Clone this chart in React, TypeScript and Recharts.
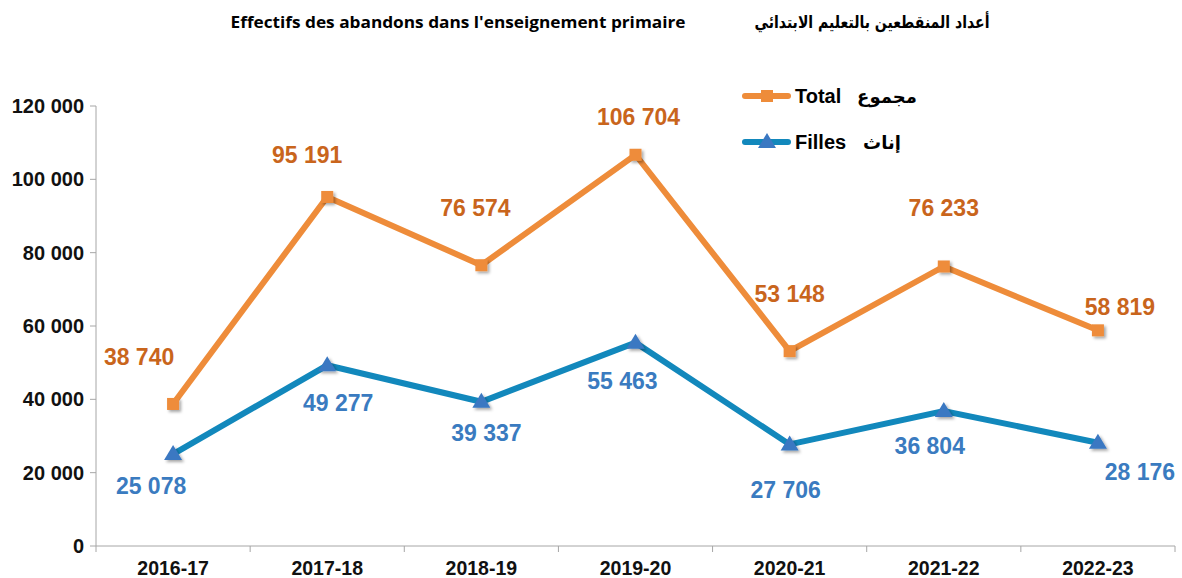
import { LineChart, Line, XAxis, YAxis, LabelList } from 'recharts';

document.body.style.margin = '0';

const years = ['2016-17', '2017-18', '2018-19', '2019-20', '2020-21', '2021-22', '2022-23'];
const total = [38740, 95191, 76574, 106704, 53148, 76233, 58819];
const filles = [25078, 49277, 39337, 55463, 27706, 36804, 28176];
const yTicks = [0, 20000, 40000, 60000, 80000, 100000, 120000];

// where each value label sits relative to its point
const totalLabelShift = [[-34, -47], [-20, -42], [-6, -57], [3, -38], [0, -57], [0, -58], [22, -23]];
const fillesLabelShift = [[-22, 32], [11, 38], [5, 31], [-13, 38], [-4, 46], [-14, 35], [42, 29]];

const ORANGE = '#ee8c3a';
const ORANGE_TXT = '#c9651c';
const BLUE = '#1288bc';
const BLUE_MARK = '#3a78c2';
const BLUE_TXT = '#3a7bc0';
const AXIS = '#a6a6a6';
const FONT = '"Liberation Sans", Arial, "DejaVu Sans", sans-serif';

const data = years.map((y, i) => ({ pos: i + 0.5, year: y, total: total[i], filles: filles[i] }));
const edgeTicks = years.flatMap((_, i) => [i, i + 0.5]).concat(years.length);

const fmt = (v: number) => String(v).replace(/\B(?=(\d{3})+(?!\d))/g, ' ');

const SquareDot = ({ cx, cy }: any) => (
  <rect x={cx - 6} y={cy - 6} width={12} height={12} fill={ORANGE} filter="url(#shadow)" />
);

const TriangleDot = ({ cx, cy }: any) => (
  <path d={`M${cx},${cy - 9} L${cx + 9},${cy + 6} L${cx - 9},${cy + 6} Z`} fill={BLUE_MARK} filter="url(#shadow)" />
);

const makeLabel = (shift: number[][], color: string) => (props: any) => {
  const { x, y, value, index } = props;
  const [dx, dy] = shift[index];
  return (
    <text x={x + dx} y={y + dy} textAnchor="middle" dominantBaseline="central"
      fill={color} fontSize={23} fontWeight={700} fontFamily={FONT}>
      {fmt(value)}
    </text>
  );
};

const XTick = ({ x, y, payload }: any) => {
  const v = payload.value;
  if (Number.isInteger(v)) {
    return <line x1={x} x2={x} y1={y - 6} y2={y} stroke={AXIS} strokeWidth={1} />;
  }
  return (
    <text x={x} y={y + 23} textAnchor="middle" fill="#111" fontSize={19.5} fontWeight={700} fontFamily={FONT}>
      {years[Math.floor(v)]}
    </text>
  );
};

const LegendBox = () => (
  <svg width={200} height={80} style={{ position: 'absolute', left: 740, top: 80 }}>
    <line x1={5} x2={48} y1={16} y2={16} stroke={ORANGE} strokeWidth={6} strokeLinecap="round" />
    <rect x={21} y={10} width={12} height={12} fill={ORANGE} />
    <text x={55} y={23} fontSize={20} fontWeight={700} fontFamily={FONT} fill="#000">Total</text>
    <text x={147} y={23} fontSize={18} fontWeight={700} fontFamily='"DejaVu Sans", sans-serif' fill="#000" textAnchor="middle">مجموع</text>
    <line x1={5} x2={48} y1={62} y2={62} stroke={BLUE} strokeWidth={6} strokeLinecap="round" />
    <path d="M27,53 L36,68 L18,68 Z" fill={BLUE_MARK} />
    <text x={55} y={69} fontSize={20} fontWeight={700} fontFamily={FONT} fill="#000">Filles</text>
    <text x={142} y={69} fontSize={18} fontWeight={700} fontFamily='"DejaVu Sans", sans-serif' fill="#000" textAnchor="middle">إناث</text>
  </svg>
);

export default function App() {
  return (
    <div style={{ position: 'relative', width: 1182, height: 578, background: '#fff' }}>
      <svg width={0} height={0} style={{ position: 'absolute' }}>
        <defs>
          <filter id="shadow" x="-50%" y="-50%" width="200%" height="200%">
            <feDropShadow dx={2} dy={2} stdDeviation={1.5} floodColor="#000" floodOpacity={0.35} />
          </filter>
        </defs>
      </svg>
      <LineChart width={1182} height={578} data={data} margin={{ top: 106, right: 7, bottom: 0, left: 0 }}>
        <XAxis dataKey="pos" type="number" domain={[0, years.length]} ticks={edgeTicks} interval={0}
          height={32} axisLine={{ stroke: AXIS }} tickLine={false} tickSize={6} tickMargin={0} tick={<XTick />} />
        <YAxis domain={[0, 120000]} ticks={yTicks} width={96} interval={0}
          axisLine={{ stroke: AXIS }} tickLine={{ stroke: AXIS }} tickSize={6} tickMargin={6}
          tickFormatter={fmt} tick={{ fill: '#111', fontSize: 20, fontWeight: 700, fontFamily: FONT }} />
        <Line dataKey="total" stroke={ORANGE} strokeWidth={6} dot={<SquareDot />} activeDot={false} isAnimationActive={false}>
          <LabelList dataKey="total" content={makeLabel(totalLabelShift, ORANGE_TXT)} />
        </Line>
        <Line dataKey="filles" stroke={BLUE} strokeWidth={6} dot={<TriangleDot />} activeDot={false} isAnimationActive={false}>
          <LabelList dataKey="filles" content={makeLabel(fillesLabelShift, BLUE_TXT)} />
        </Line>
      </LineChart>
      <svg width={1182} height={50} style={{ position: 'absolute', left: 0, top: 0 }}>
        <text x={458} y={28} textAnchor="middle" fontSize={16} fontWeight={700} fontFamily='"Open Sans", sans-serif'
          textLength={455} lengthAdjust="spacingAndGlyphs" fill="#000">
          Effectifs des abandons dans l'enseignement primaire
        </text>
        <text x={872} y={28} textAnchor="middle" fontSize={17} fontWeight={700} fontFamily='"DejaVu Sans", sans-serif'
          textLength={235} lengthAdjust="spacingAndGlyphs" fill="#000">
          أعداد المنقطعين بالتعليم الابتدائي
        </text>
      </svg>
      <LegendBox />
    </div>
  );
}
